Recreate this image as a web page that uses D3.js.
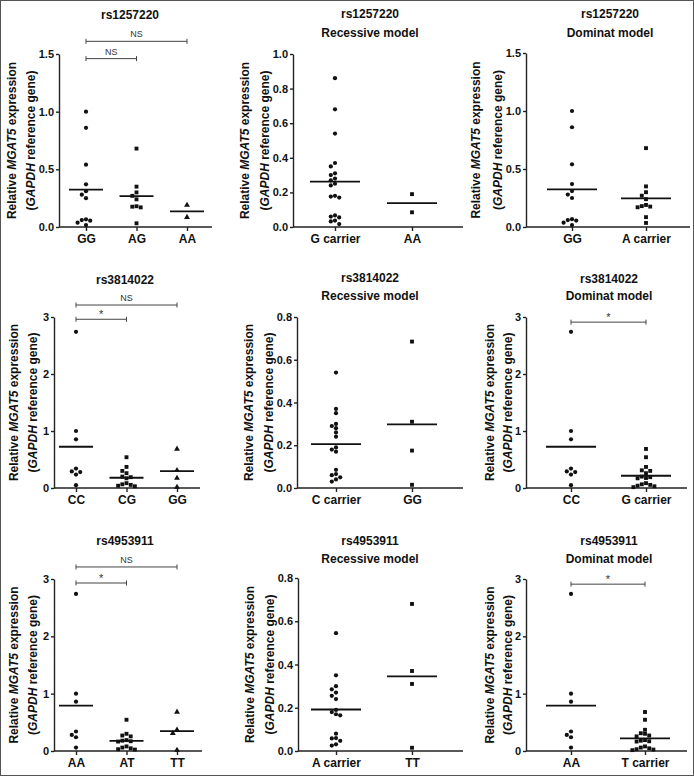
<!DOCTYPE html>
<html><head><meta charset="utf-8">
<script src="https://cdn.jsdelivr.net/npm/d3@7"></script>
<style>
body{margin:0;background:#fff}
svg{display:block}
text{font-family:Arial,"Liberation Sans",sans-serif}
</style>
</head><body>
<svg id="chart" width="694" height="776"></svg>
<script>
// ---------------- DATA ----------------
// rs1257220
const rs1257220_cats = ["GG", "AG", "AA"];
const rs1257220_GG = [1.00, 0.86, 0.54, 0.37, 0.31, 0.28, 0.25, 0.067, 0.06, 0.055, 0.037, 0.017];
const rs1257220_AG = [0.68, 0.35, 0.30, 0.27, 0.24, 0.18, 0.176, 0.17, 0.032];
const rs1257220_AA = [0.19, 0.085];
const rs1257220_means = [0.324, 0.268, 0.136];

const rs1257220_rec_cats = ["G carrier", "AA"];
const rs1257220_rec_Gcarrier = [0.86, 0.68, 0.54, 0.37, 0.35, 0.31, 0.30, 0.28, 0.27, 0.25, 0.24, 0.18, 0.176, 0.17, 0.067, 0.06, 0.055, 0.037, 0.032, 0.017];
const rs1257220_rec_AA = [0.19, 0.085];
const rs1257220_rec_means = [0.262, 0.138];

const rs1257220_dom_cats = ["GG", "A carrier"];
const rs1257220_dom_GG = [1.00, 0.86, 0.54, 0.37, 0.31, 0.28, 0.25, 0.067, 0.06, 0.055, 0.037, 0.017];
const rs1257220_dom_Acarrier = [0.68, 0.35, 0.30, 0.27, 0.24, 0.19, 0.18, 0.176, 0.17, 0.085, 0.035];
const rs1257220_dom_means = [0.324, 0.246];

// rs3814022
const rs3814022_cats = ["CC", "CG", "GG"];
const rs3814022_CC = [2.74, 1.00, 0.855, 0.34, 0.29, 0.28, 0.235, 0.05];
const rs3814022_CG = [0.54, 0.37, 0.30, 0.26, 0.20, 0.19, 0.17, 0.085, 0.065, 0.055, 0.04, 0.03];
const rs3814022_GG = [0.685, 0.31, 0.175, 0.015];
const rs3814022_means = [0.724, 0.18, 0.296];

const rs3814022_rec_cats = ["C carrier", "GG"];
const rs3814022_rec_Ccarrier = [0.54, 0.37, 0.35, 0.30, 0.29, 0.28, 0.26, 0.24, 0.19, 0.18, 0.17, 0.085, 0.065, 0.06, 0.05, 0.04, 0.03];
const rs3814022_rec_GG = [0.685, 0.31, 0.175, 0.015];
const rs3814022_rec_means = [0.205, 0.298];

const rs3814022_dom_cats = ["CC", "G carrier"];
const rs3814022_dom_CC = [2.74, 1.00, 0.855, 0.34, 0.29, 0.28, 0.235, 0.05];
const rs3814022_dom_Gcarrier = [0.685, 0.54, 0.37, 0.31, 0.30, 0.26, 0.20, 0.19, 0.175, 0.17, 0.085, 0.065, 0.055, 0.04, 0.03, 0.015];
const rs3814022_dom_means = [0.724, 0.215];

// rs4953911
const rs4953911_cats = ["AA", "AT", "TT"];
const rs4953911_AA = [2.74, 1.00, 0.86, 0.34, 0.28, 0.24, 0.06];
const rs4953911_AT = [0.545, 0.30, 0.27, 0.255, 0.19, 0.18, 0.17, 0.165, 0.08, 0.06, 0.047, 0.031, 0.025];
const rs4953911_TT = [0.68, 0.37, 0.31, 0.015];
const rs4953911_means = [0.79, 0.175, 0.345];

const rs4953911_rec_cats = ["A carrier", "TT"];
const rs4953911_rec_Acarrier = [0.545, 0.35, 0.30, 0.285, 0.27, 0.255, 0.24, 0.19, 0.18, 0.17, 0.165, 0.08, 0.06, 0.058, 0.047, 0.031, 0.025];
const rs4953911_rec_TT = [0.68, 0.37, 0.31, 0.015];
const rs4953911_rec_means = [0.192, 0.345];

const rs4953911_dom_cats = ["AA", "T carrier"];
const rs4953911_dom_AA = [2.74, 1.00, 0.86, 0.34, 0.28, 0.24, 0.06];
const rs4953911_dom_Tcarrier = [0.68, 0.545, 0.37, 0.31, 0.30, 0.27, 0.255, 0.19, 0.18, 0.17, 0.165, 0.08, 0.06, 0.047, 0.031, 0.025, 0.015];
const rs4953911_dom_means = [0.79, 0.22];

// axis tick labels
const ticks_1p5 = [0, 0.5, 1.0, 1.5];
const ticks_1p0 = [0, 0.2, 0.4, 0.6, 0.8, 1.0];
const ticks_0p8 = [0, 0.2, 0.4, 0.6, 0.8];
const ticks_3 = [0, 1, 2, 3];

// significance brackets: [fromCat, toCat, level(data units), label]
const rs1257220_sig = [["GG", "AA", 1.61, "NS"], ["GG", "AG", 1.46, "NS"]];
const rs3814022_sig = [["CC", "GG", 3.21, "NS"], ["CC", "CG", 2.96, "*"]];
const rs3814022_dom_sig = [["CC", "G carrier", 2.91, "*"]];
const rs4953911_sig = [["AA", "TT", 3.21, "NS"], ["AA", "AT", 2.93, "*"]];
const rs4953911_dom_sig = [["AA", "T carrier", 2.91, "*"]];

// ---------------- PANELS (layout) ----------------
const panels = [
  {title:["rs1257220"], cats:rs1257220_cats, groups:[rs1257220_GG, rs1257220_AG, rs1257220_AA], means:rs1257220_means,
   shapes:["circle","square","triangle"], dom:[0,1.5], ticks:ticks_1p5, fmt:".1f", sig:rs1257220_sig,
   ax:59, xr:212, cx:[86,187], y0:227, y1:54, tx:130, ty:[19], yt:[14,33]},
  {title:["rs1257220","Recessive model"], cats:rs1257220_rec_cats, groups:[rs1257220_rec_Gcarrier, rs1257220_rec_AA], means:rs1257220_rec_means,
   shapes:["circle","square"], dom:[0,1.0], ticks:ticks_1p0, fmt:".1f", sig:[],
   ax:293, xr:463, cx:[335,412], y0:227, y1:54, tx:370, ty:[18,37], yt:[253,273]},
  {title:["rs1257220","Dominat model"], cats:rs1257220_dom_cats, groups:[rs1257220_dom_GG, rs1257220_dom_Acarrier], means:rs1257220_dom_means,
   shapes:["circle","square"], dom:[0,1.5], ticks:ticks_1p5, fmt:".1f", sig:[],
   ax:526, xr:690, cx:[572,646], y0:227, y1:53, tx:610, ty:[18,37], yt:[488,510]},

  {title:["rs3814022"], cats:rs3814022_cats, groups:[rs3814022_CC, rs3814022_CG, rs3814022_GG], means:rs3814022_means,
   shapes:["circle","square","triangle"], dom:[0,3], ticks:ticks_3, fmt:"d", sig:rs3814022_sig,
   ax:54, xr:200, cx:[76,177], y0:488, y1:317, tx:125, ty:[284], yt:[14,33]},
  {title:["rs3814022","Recessive model"], cats:rs3814022_rec_cats, groups:[rs3814022_rec_Ccarrier, rs3814022_rec_GG], means:rs3814022_rec_means,
   shapes:["circle","square"], dom:[0,0.8], ticks:ticks_0p8, fmt:".1f", sig:[],
   ax:297, xr:463, cx:[336,412], y0:488, y1:317, tx:370, ty:[282,300], yt:[253,273]},
  {title:["rs3814022","Dominat model"], cats:rs3814022_dom_cats, groups:[rs3814022_dom_CC, rs3814022_dom_Gcarrier], means:rs3814022_dom_means,
   shapes:["circle","square"], dom:[0,3], ticks:ticks_3, fmt:"d", sig:rs3814022_dom_sig,
   ax:526, xr:687, cx:[571,646], y0:488, y1:317, tx:609, ty:[283,300], yt:[497,515]},

  {title:["rs4953911"], cats:rs4953911_cats, groups:[rs4953911_AA, rs4953911_AT, rs4953911_TT], means:rs4953911_means,
   shapes:["circle","square","triangle"], dom:[0,3], ticks:ticks_3, fmt:"d", sig:rs4953911_sig,
   ax:54, xr:202, cx:[76,177], y0:751, y1:579, tx:125, ty:[545], yt:[14,33]},
  {title:["rs4953911","Recessive model"], cats:rs4953911_rec_cats, groups:[rs4953911_rec_Acarrier, rs4953911_rec_TT], means:rs4953911_rec_means,
   shapes:["circle","square"], dom:[0,0.8], ticks:ticks_0p8, fmt:".1f", sig:[],
   ax:298, xr:463, cx:[336,412], y0:751, y1:578, tx:370, ty:[545,563], yt:[253,273]},
  {title:["rs4953911","Dominat model"], cats:rs4953911_dom_cats, groups:[rs4953911_dom_AA, rs4953911_dom_Tcarrier], means:rs4953911_dom_means,
   shapes:["circle","square"], dom:[0,3], ticks:ticks_3, fmt:"d", sig:rs4953911_dom_sig,
   ax:526, xr:687, cx:[571,645], y0:751, y1:579, tx:609, ty:[545,563], yt:[497,515]}
];

// ---------------- DRAW ----------------
const svg = d3.select("#chart");
svg.append("rect").attr("width",694).attr("height",776).attr("fill","#fff");

const symbolType = {circle:d3.symbolCircle, square:d3.symbolSquare, triangle:d3.symbolTriangle};
const symbolSize = {circle:14, square:15, triangle:15};

function spread(vals, y, step, minDy){
  const order = vals.map((v,i)=>i).sort((a,b)=>vals[b]-vals[a]);
  const placed = [], off = new Array(vals.length).fill(0);
  order.forEach(i=>{
    const py = y(vals[i]);
    for(let k=0;k<60;k++){
      const o = k===0 ? 0 : (k%2 ? -Math.ceil(k/2) : Math.ceil(k/2))*step;
      const ok = placed.every(p=>Math.abs(p.y-py)>=minDy || Math.abs(p.x-o)>=step-0.01);
      if(ok){ placed.push({x:o,y:py}); off[i]=o; break; }
    }
  });
  return off;
}

panels.forEach(p=>{
  const g = svg.append("g");
  const x = d3.scalePoint().domain(p.cats).range(p.cx);
  const y = d3.scaleLinear().domain(p.dom).range([p.y0, p.y1]);

  // title
  p.title.forEach((t,i)=>{
    g.append("text").attr("x",p.tx).attr("y",p.ty[i]).attr("text-anchor","middle")
      .attr("font-size","12px").attr("font-weight","bold").attr("fill","#111").text(t);
  });

  // y axis
  const yAxis = d3.axisLeft(y).tickValues(p.ticks).tickFormat(d3.format(p.fmt)).tickSize(3).tickSizeOuter(0).tickPadding(2);
  const ya = g.append("g").attr("transform",`translate(${p.ax},0)`).call(yAxis);
  ya.select(".domain").attr("stroke","#222").attr("stroke-width",1.4);
  ya.selectAll(".tick line").attr("stroke","#222").attr("stroke-width",1.4);
  ya.selectAll(".tick text").attr("font-size","11px").attr("font-weight","bold").attr("fill","#111")
    .attr("font-family",'Arial,"Liberation Sans",sans-serif');
  let labelLeft = Infinity;
  ya.selectAll(".tick text").each(function(){ const w = this.getComputedTextLength(); labelLeft = Math.min(labelLeft, p.ax - 5 - w); });

  // x axis
  const xAxis = d3.axisBottom(x).tickSize(4).tickSizeOuter(0).tickPadding(3);
  const xa = g.append("g").attr("transform",`translate(0,${p.y0})`).call(xAxis);
  xa.select(".domain").remove();
  xa.append("line").attr("x1",p.ax).attr("x2",p.xr).attr("y1",0).attr("y2",0).attr("stroke","#222").attr("stroke-width",1.4);
  xa.selectAll(".tick line").attr("stroke","#222").attr("stroke-width",1.4);
  xa.selectAll(".tick text").attr("font-size","12px").attr("font-weight","bold").attr("fill","#111")
    .attr("font-family",'Arial,"Liberation Sans",sans-serif');

  // y title (kept clear of the tick labels)
  const yc = (p.y0+p.y1)/2;
  const line2 = Math.min(p.yt[1], labelLeft - 7.5);
  const line1 = line2 - (p.yt[1]-p.yt[0]);
  const t1 = g.append("text").attr("transform",`translate(${line1},${yc}) rotate(-90)`).attr("text-anchor","middle")
    .attr("dy","0.35em").attr("font-size","12px").attr("font-weight","bold").attr("fill","#111");
  t1.append("tspan").text("Relative ");
  t1.append("tspan").attr("font-style","italic").text("MGAT5");
  t1.append("tspan").text(" expression");
  const t2 = g.append("text").attr("transform",`translate(${line2},${yc}) rotate(-90)`).attr("text-anchor","middle")
    .attr("dy","0.35em").attr("font-size","12px").attr("font-weight","bold").attr("fill","#111");
  t2.append("tspan").text("(");
  t2.append("tspan").attr("font-style","italic").text("GAPDH");
  t2.append("tspan").text(" reference gene)");

  // points
  const halfW = p.cats.length === 3 ? 17 : 25;
  p.groups.forEach((vals, gi)=>{
    const cat = p.cats[gi];
    const offs = spread(vals, y, 4.2, 4);
    const shape = p.shapes[gi];
    g.selectAll(null).data(vals).enter().append("path")
      .attr("d", d3.symbol().type(symbolType[shape]).size(symbolSize[shape]))
      .attr("transform",(d,i)=>`translate(${x(cat)+offs[i]},${y(d)})`)
      .attr("fill","#111");
    // mean line
    g.append("line").attr("x1",x(cat)-halfW).attr("x2",x(cat)+halfW)
      .attr("y1",y(p.means[gi])).attr("y2",y(p.means[gi]))
      .attr("stroke","#111").attr("stroke-width",1.8);
  });

  // significance brackets
  p.sig.forEach(s=>{
    const x1 = x(s[0]), x2 = x(s[1]), yy = y(s[2]);
    g.append("line").attr("x1",x1).attr("x2",x2).attr("y1",yy).attr("y2",yy).attr("stroke","#444").attr("stroke-width",1);
    [x1,x2].forEach(xx=>g.append("line").attr("x1",xx).attr("x2",xx).attr("y1",yy-2.5).attr("y2",yy+2.5).attr("stroke","#444").attr("stroke-width",1));
    g.append("text").attr("x",(x1+x2)/2).attr("y", s[3]==="*" ? yy-1 : yy-4)
      .attr("text-anchor","middle").attr("font-size", s[3]==="*" ? "11px" : "9px").attr("fill","#333").text(s[3]);
  });
});

// outer frame
svg.append("rect").attr("x",0.5).attr("y",0.5).attr("width",693).attr("height",775)
  .attr("fill","none").attr("stroke","#555").attr("stroke-width",1);
</script>
</body></html>
